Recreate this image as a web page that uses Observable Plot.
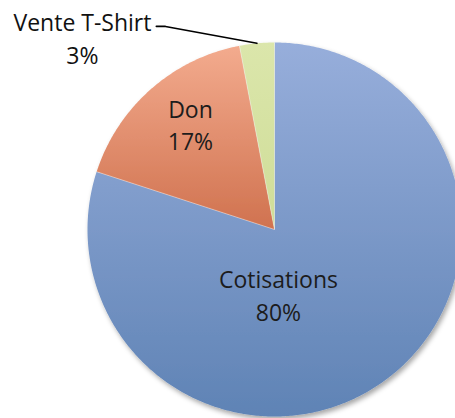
<!DOCTYPE html>
<html>
<head>
<meta charset="utf-8">
<script src="https://cdn.jsdelivr.net/npm/d3@7"></script>
<script src="https://cdn.jsdelivr.net/npm/@observablehq/plot@0.6"></script>
<style>
  html, body { margin: 0; padding: 0; background: #fff; overflow: hidden; }
  svg { display: block; overflow: visible; }
</style>
</head>
<body>
<div id="chart"></div>
<script>
// ---- data ----
const categories = ["Cotisations", "Don", "Vente T-Shirt"];
const values = [80, 17, 3];
const percentLabels = ["80%", "17%", "3%"];

// ---- build slice geometry from the data ----
const pie = d3.pie().sort(null).value(d => d)(values);
const slices = categories.map((c, i) => ({
  cat: c, idx: i,
  a0: pie[i].startAngle, a1: pie[i].endAngle,
  mid: (pie[i].startAngle + pie[i].endAngle) / 2,
  label: c + "\n" + percentLabels[i]
}));
const polyPoints = [];
for (const s of slices) {
  polyPoints.push({cat: s.cat, idx: s.idx, x: 0, y: 0});
  const n = Math.max(4, Math.ceil((s.a1 - s.a0) / 0.01));
  for (let k = 0; k <= n; k++) {
    const a = s.a0 + (s.a1 - s.a0) * k / n;
    polyPoints.push({cat: s.cat, idx: s.idx, x: Math.sin(a), y: Math.cos(a)});
  }
}
const separators = slices.map(s => ({x2: Math.sin(s.a0), y2: Math.cos(s.a0)}));

const inside = slices.filter(s => s.idx < 2);
const outside = slices.filter(s => s.idx === 2);
const R = 187;
const insideRadius = [0.5, 0.72];
const insideDx = [-51, 5];
const insideDy = [-11, -5];

// leader for the small slice: from the arc at the slice middle to the label elbow
const leader = outside.flatMap(s => [
  {x: Math.sin(s.mid), y: Math.cos(s.mid)},
  {x: -0.583, y: 1.086},
  {x: -0.632, y: 1.086}
]);

const fontFamily = "'Open Sans', Lato, sans-serif";
const fs = 23;

const plot = Plot.plot({
  width: 455,
  height: 418,
  margin: 0,
  x: {domain: [-1, 1], range: [87, 461], axis: null},
  y: {domain: [-1, 1], range: [416, 42], axis: null},
  color: {type: "identity"},
  style: {fontFamily, background: "transparent"},
  marks: [
    Plot.line(polyPoints, {
      x: "x", y: "y", z: "cat",
      fill: d => "url(#grad" + d.idx + ")",
      stroke: "none",
      curve: "linear-closed"
    }),
    Plot.link(separators, {
      x1: 0, y1: 0, x2: "x2", y2: "y2",
      stroke: "#ffffff", strokeOpacity: 0.45, strokeWidth: 0.9
    }),
    Plot.text(inside, {
      x: d => Math.sin(d.mid) * insideRadius[d.idx] + insideDx[d.idx] / R,
      y: d => Math.cos(d.mid) * insideRadius[d.idx] - insideDy[d.idx] / R,
      text: "label",
      fontSize: fs, lineHeight: 1.41, fill: "#1c1c1c"
    }),
    Plot.line(leader, {x: "x", y: "y", stroke: "#000", strokeWidth: 1.6}),
    Plot.text(outside, {
      x: -1.027, y: 1.03,
      text: "label",
      fontSize: fs, lineHeight: 1.43, fill: "#111111"
    })
  ]
});

plot.insertAdjacentHTML("afterbegin", `
<defs>
  <linearGradient id="grad0" x1="0" y1="0" x2="0" y2="1">
    <stop offset="0" stop-color="#97aedb"/>
    <stop offset="1" stop-color="#5f83b5"/>
  </linearGradient>
  <linearGradient id="grad1" x1="0" y1="0" x2="0" y2="1">
    <stop offset="0" stop-color="#f3ab8e"/>
    <stop offset="1" stop-color="#d0724f"/>
  </linearGradient>
  <linearGradient id="grad2" x1="0" y1="0" x2="0" y2="1">
    <stop offset="0" stop-color="#dbe6ab"/>
    <stop offset="1" stop-color="#cfdd98"/>
  </linearGradient>
  <filter id="shadow" x="-10%" y="-10%" width="130%" height="130%">
    <feDropShadow dx="2" dy="3" stdDeviation="2.5" flood-color="#000" flood-opacity="0.35"/>
  </filter>
</defs>`);
const pieGroup = plot.querySelector("g[aria-label='line']");
if (pieGroup) pieGroup.setAttribute("filter", "url(#shadow)");

document.getElementById("chart").appendChild(plot);
</script>
</body>
</html>
